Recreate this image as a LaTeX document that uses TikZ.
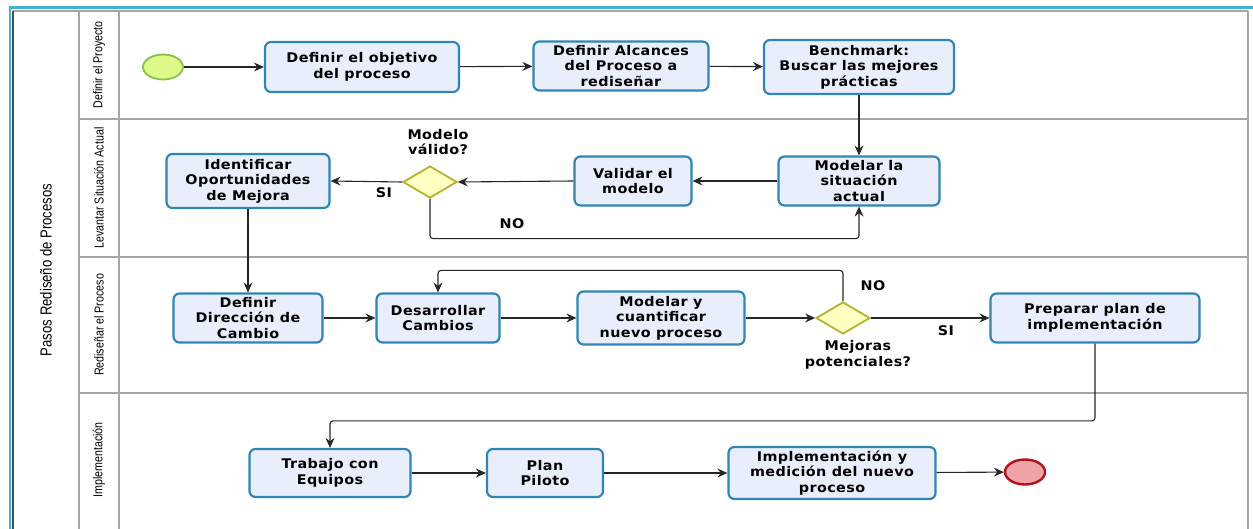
\documentclass[tikz,border=0pt]{standalone}
\usepackage{fontspec}
\setmainfont{DejaVu Sans}
\newfontfamily\boxfont[FakeStretch=1.08,LetterSpace=3]{DejaVu Sans}
\newfontfamily\narrowfont[FakeStretch=0.82]{Liberation Sans}
\usetikzlibrary{arrows.meta,shapes.geometric}
\definecolor{boxfill}{HTML}{E9EEFC}
\definecolor{boxline}{HTML}{2F86B4}
\definecolor{gwfill}{HTML}{FFFFC2}
\definecolor{gwline}{HTML}{B3B32E}
\definecolor{stfill}{HTML}{DDF98A}
\definecolor{stline}{HTML}{86C24A}
\definecolor{enfill}{HTML}{EFA3A8}
\definecolor{enline}{HTML}{B0121B}
\definecolor{cyanline}{HTML}{45B3CF}
\definecolor{frame}{HTML}{A6A6A6}
\tikzset{
  task/.style={rectangle, rounded corners=6pt, draw=boxline, line width=2.2pt, fill=boxfill,
    align=center, inner sep=0pt, font=\boxfont\bfseries\fontsize{13.3}{15.6}\selectfont},
  gw/.style={diamond, draw=gwline, line width=1.8pt, fill=gwfill, aspect=1.7,
    minimum width=54pt, minimum height=32pt, inner sep=0pt},
  startev/.style={ellipse, draw=stline, line width=1.8pt, fill=stfill, minimum width=40pt, minimum height=25pt},
  endev/.style={ellipse, draw=enline, line width=2.4pt, fill=enfill, minimum width=40pt, minimum height=25pt},
  flow/.style={draw=black!85, line width=1.1pt, -{Stealth[length=10pt,width=9pt,inset=3.5pt]}, rounded corners=3pt},
  lbl/.style={font=\boxfont\bfseries\fontsize{13.3}{15.6}\selectfont, align=center, inner sep=0pt},
  lane/.style={font=\narrowfont\fontsize{13}{15}\selectfont, rotate=90, inner sep=0pt},
  sep/.style={draw=frame, line width=2pt}
}
\begin{document}
\begin{tikzpicture}[x=1pt,y=-1pt]
\useasboundingbox (0,0) rectangle (1253,529);
% frame
\draw[cyanline, line width=2.2pt] (10,529) -- (10,7.5) -- (1253,7.5);
\draw[sep] (13,11) -- (1248,11);
\draw[draw=black!70, line width=2pt] (13,11) -- (13,529);
\draw[sep] (1248,11) -- (1248,529);
\draw[sep] (79,11) -- (79,529);
\draw[sep] (119,11) -- (119,529);
\draw[sep] (79,119) -- (1248,119);
\draw[sep] (79,257) -- (1248,257);
\draw[sep] (79,393) -- (1248,393);
% lane labels
\node[lane, font=\narrowfont\fontsize{16}{18}\selectfont] (pool) at (46,270) {Pasos Rediseño de Procesos};
\node[lane] (l1) at (99,65) {Definir el Proyecto};
\node[lane] (l2) at (99,188) {Levantar Situación Actual};
\node[lane] (l3) at (99,325) {Rediseñar el Proceso};
\node[lane] (l4) at (99,460) {Implementación};
% lane 1
\node[startev] (start) at (163,67) {};
\node[task, minimum width=194pt, minimum height=50pt] (t1) at (362,67) {Definir el objetivo\\del proceso};
\node[task, minimum width=175pt, minimum height=49pt] (t2) at (621,66) {Definir Alcances\\del Proceso a\\rediseñar};
\node[task, minimum width=190pt, minimum height=54pt] (t3) at (859,67) {Benchmark:\\Buscar las mejores\\prácticas};
% lane 2
\node[task, minimum width=161pt, minimum height=49pt] (t4) at (859,181) {Modelar la\\situación\\actual};
\node[task, minimum width=117pt, minimum height=49pt] (t5) at (633,181) {Validar el\\modelo};
\node[gw] (d1) at (430,182) {};
\node[lbl] (d1l) at (438,142) {Modelo\\válido?};
\node[task, minimum width=163pt, minimum height=54pt] (t6) at (248,181) {Identificar\\Oportunidades\\de Mejora};
\node[lbl] (si1) at (384,193) {SI};
\node[lbl] (no1) at (512,224) {NO};
% lane 3
\node[task, minimum width=149pt, minimum height=49pt] (t7) at (248,318) {Definir\\Dirección de\\Cambio};
\node[task, minimum width=123pt, minimum height=49pt] (t8) at (438,318) {Desarrollar\\Cambios};
\node[task, minimum width=167pt, minimum height=53pt] (t9) at (661,318) {Modelar y\\cuantificar\\nuevo proceso};
\node[gw] (d2) at (843,318) {};
\node[lbl] (d2l) at (858,355) {Mejoras\\potenciales?};
\node[lbl] (no2) at (873,286) {NO};
\node[lbl] (si2) at (946,331) {SI};
\node[task, minimum width=209pt, minimum height=49pt] (t10) at (1095,318) {Preparar plan de\\implementación};
% lane 4
\node[task, minimum width=161pt, minimum height=48pt] (t11) at (330,473) {Trabajo con\\Equipos};
\node[task, minimum width=116pt, minimum height=48pt] (t12) at (545,473) {Plan\\Piloto};
\node[task, minimum width=207pt, minimum height=52pt] (t13) at (832,473) {Implementación y\\medición del nuevo\\proceso};
\node[endev] (end) at (1025,472) {};
% flows
\draw[flow] (start) -- (t1);
\draw[flow] (t1) -- (t2);
\draw[flow] (t2) -- (t3);
\draw[flow] (t3) -- (t4);
\draw[flow] (t4) -- (t5);
\draw[flow] (t5.west) -- (d1.east);
\draw[flow] (d1.west) -- (t6.east);
\draw[flow] (d1.south) |- ([yshift=-32pt]t4.south) -- (t4.south);
\draw[flow] (t6) -- (t7);
\draw[flow] (t7) -- (t8);
\draw[flow] (t8) -- (t9);
\draw[flow] (t9.east) -- (d2.west);
\draw[flow] (d2.east) -- (t10.west);
\draw[flow] (d2.north) |- ([yshift=22pt]t8.north) -- (t8.north);
\draw[flow] (t10.south) |- ([yshift=27pt]t11.north) -- (t11.north);
\draw[flow] (t11) -- (t12);
\draw[flow] (t12) -- (t13);
\draw[flow] (t13) -- (end);
\end{tikzpicture}
\end{document}
